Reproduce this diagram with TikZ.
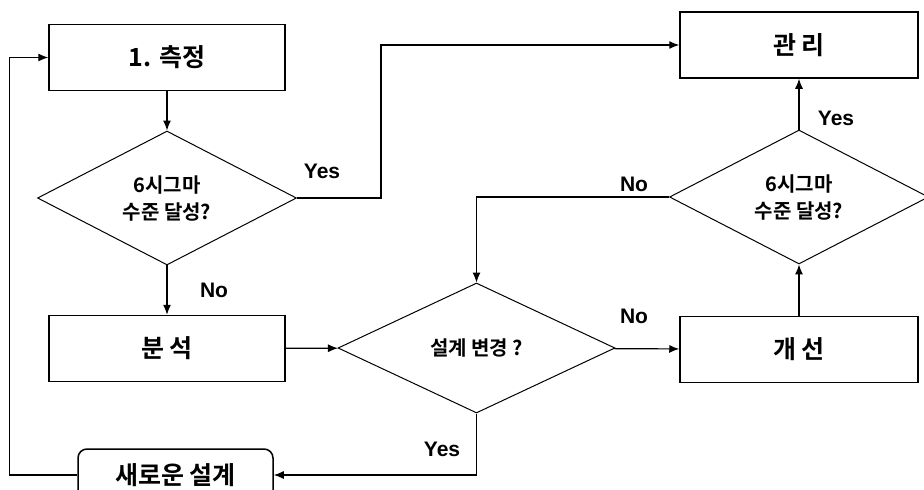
\documentclass[tikz,border=0pt]{standalone}
\usepackage{fontspec}
\setmainfont{Liberation Sans}
\newfontfamily\krfont{Noto Sans CJK KR Bold}
\usetikzlibrary{shapes.geometric,arrows.meta}

\tikzset{
  stepbox/.style={draw, line width=1.5pt, minimum width=236pt, minimum height=66pt,
    inner sep=0pt, font=\krfont\fontsize{25}{27}\selectfont},
  check/.style={draw, diamond, line width=1pt, minimum width=259pt, minimum height=130pt,
    inner sep=0pt, align=center, font=\krfont\fontsize{20}{27}\selectfont},
  lbl/.style={font=\bfseries\fontsize{21}{24}\selectfont},
}

\begin{document}
\begin{tikzpicture}[x=1pt, y=-1pt, >={Latex[length=10pt,width=8pt]}, line width=1.2pt]
  \useasboundingbox (0,0) rectangle (924,490);

  \node[stepbox] (measure) at (167, 57.5) {1. 측정};
  \node[check] (check1) at (167, 198) {6시그마\\수준 달성?};
  \node[stepbox] (analyze) at (167, 348.5) {분 석};
  \node[check, minimum width=277pt] (redesign) at (476.5, 348) {설계 변경 ?};
  \node[stepbox, minimum width=238pt] (improve) at (799, 349.5) {개 선};
  \node[check] (check2) at (799, 197) {6시그마\\수준 달성?};
  \node[stepbox, minimum width=238pt] (manage) at (799, 45) {관 리};
  \node[stepbox, rounded corners=9pt, minimum width=195pt, minimum height=52pt] (newdesign) at (175.5, 475) {새로운 설계};

  \draw[->] (measure) -- (check1);
  \draw[->] (check1.east) -- ++(84,0) |- (manage.west);
  \draw[->] (check1) -- (analyze);
  \draw[->] (analyze) -- (redesign);
  \draw[->] (redesign) -- (improve);
  \draw[->] (improve) -- (check2);
  \draw[->] (check2) -- (manage);
  \draw[->] (check2.west) -| (redesign.north);
  \draw[->] (redesign.south) |- (newdesign.east);
  \draw[->] (newdesign.west) -- ++(-68,0) |- (measure.west);

  \node[lbl] (yes1) at (322, 171) {Yes};
  \node[lbl] (no1) at (214, 290) {No};
  \node[lbl] (no2) at (634, 316) {No};
  \node[lbl] (no3) at (634, 184) {No};
  \node[lbl] (yes2) at (836, 118) {Yes};
  \node[lbl] (yes3) at (442, 449) {Yes};
\end{tikzpicture}
\end{document}
